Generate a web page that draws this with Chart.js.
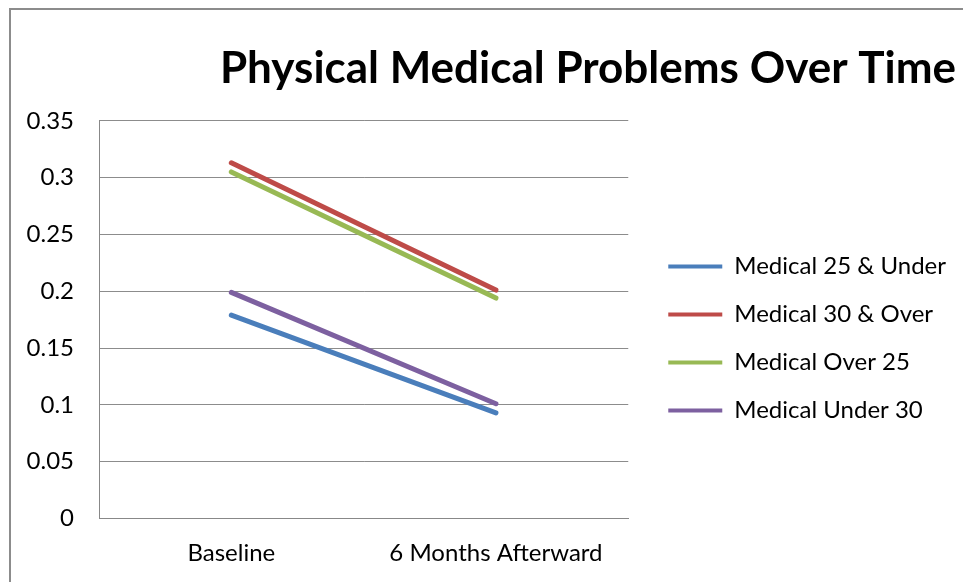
<!DOCTYPE html>
<html lang="en">
<head>
<meta charset="UTF-8">
<title>Physical Medical Problems Over Time</title>
<style>
  html, body { margin: 0; padding: 0; background: #fff; overflow: hidden; }
  .frame {
    position: absolute; left: 9px; top: 8px;
    width: 1000px; height: 700px;
    border-left: 2px solid #8c8c8c; border-top: 2px solid #8c8c8c;
  }
  .chart-box { position: absolute; left: 0; top: 0; width: 945px; height: 657px; }
</style>
</head>
<body>
<div class="frame">
  <div class="chart-box"><canvas id="medChart"></canvas></div>
</div>
<script src="https://cdn.jsdelivr.net/npm/chart.js"></script>
<script>
  const periods = ['Baseline', '6 Months Afterward'];
  const under25 = [0.179, 0.093];
  const over30 = [0.313, 0.201];
  const over25 = [0.305, 0.194];
  const under30 = [0.199, 0.101];
  const seriesNames = ['Medical 25 & Under', 'Medical 30 & Over', 'Medical Over 25', 'Medical Under 30'];
  const seriesColors = ['#4a7ebb', '#be4b48', '#98b954', '#7d60a0'];
  const yTicks = [0, 0.05, 0.1, 0.15, 0.2, 0.25, 0.3, 0.35];

  const series = [under25, over30, over25, under30];
  const labelFont = { family: 'Lato', size: 24 };
  const ctx = document.getElementById('medChart').getContext('2d');

  const medChart = new Chart(ctx, {
    type: 'line',
    data: {
      labels: periods,
      datasets: series.map((vals, i) => ({
        label: seriesNames[i],
        data: vals,
        borderColor: seriesColors[i],
        backgroundColor: seriesColors[i],
        borderWidth: 5,
        borderCapStyle: 'round',
        pointRadius: 0,
        tension: 0
      }))
    },
    options: {
      responsive: true,
      maintainAspectRatio: false,
      animation: false,
      layout: { padding: 0 },
      plugins: {
        title: {
          display: true,
          text: 'Physical Medical Problems Over Time',
          align: 'end',
          color: '#000',
          font: { family: 'Lato', size: 44, weight: 'bold' },
          padding: { top: 32, bottom: 26 }
        },
        legend: {
          position: 'right',
          maxWidth: 400,
          labels: {
            color: '#000',
            font: labelFont,
            boxWidth: 54,
            boxHeight: 4,
            padding: 24,
            generateLabels: (chart) => chart.data.datasets.map((ds, i) => ({
              text: ds.label,
              fillStyle: ds.borderColor,
              strokeStyle: ds.borderColor,
              lineWidth: 0,
              datasetIndex: i
            }))
          }
        },
        tooltip: { enabled: false }
      },
      scales: {
        x: {
          offset: true,
          grid: { display: false, drawTicks: false },
          border: { color: '#888', width: 1 },
          ticks: { color: '#000', font: labelFont, padding: 20 },
          afterFit: (scale) => { scale.height = 148.5; }
        },
        y: {
          min: 0,
          max: 0.35,
          afterBuildTicks: (scale) => { scale.ticks = yTicks.map(v => ({ value: v })); },
          ticks: {
            color: '#000',
            font: labelFont,
            padding: 25,
            callback: (v) => String(+v.toFixed(2))
          },
          grid: { color: '#8c8c8c', lineWidth: 1, drawTicks: false },
          border: { color: '#888', width: 1 },
          afterFit: (scale) => { scale.width = 88; }
        },
        // empty spacer between the plot and the legend
        gap: {
          position: 'right',
          display: true,
          ticks: { display: false },
          grid: { display: false },
          border: { display: false },
          afterFit: (scale) => { scale.width = 16; }
        }
      }
    }
  });
</script>
</body>
</html>
